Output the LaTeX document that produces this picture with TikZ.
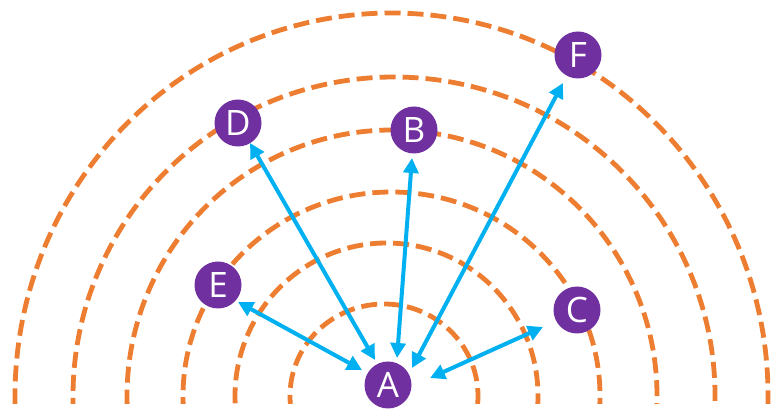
\documentclass[tikz,border=0pt]{standalone}
\usepackage{fontspec}
\newfontfamily\labfont{Open Sans}
\usetikzlibrary{arrows.meta,calc}
\definecolor{arcorange}{HTML}{ED7D31}
\definecolor{arrblue}{HTML}{00B0F0}
\definecolor{nodepurple}{HTML}{7030A0}
\tikzset{
  ring/.style={draw=arcorange, line width=4.8pt, dash pattern=on 16pt off 7pt},
  arr/.style={draw=arrblue, line width=4pt, {Triangle[length=15pt,width=15pt]}-{Triangle[length=15pt,width=15pt]}},
  station/.style={circle, fill=nodepurple, minimum size=47pt, inner sep=0pt, text=white, font=\labfont\fontsize{35}{35}\selectfont}
}
\begin{document}
\begin{tikzpicture}[x=1pt,y=1pt]
\useasboundingbox (0,0) rectangle (771,412);
\begin{scope}
\clip (0,8) rectangle (771,412);
\draw[ring, shift={(384,16)}]   (-5:94 and 92)     arc[start angle=-5, end angle=185, x radius=94,  y radius=92];
\draw[ring, shift={(386.5,16)}] (-5:151.5 and 153) arc[start angle=-5, end angle=185, x radius=151.5, y radius=153];
\draw[ring, shift={(391.5,16)}] (-5:208.5 and 204) arc[start angle=-5, end angle=185, x radius=208.5, y radius=204];
\draw[ring, shift={(392,16)}]   (-5:265 and 266)   arc[start angle=-5, end angle=185, x radius=265, y radius=266];
\draw[ring, shift={(394,16)}]   (-5:321 and 319)   arc[start angle=-5, end angle=185, x radius=321, y radius=319];
\draw[ring, shift={(391.5,16)}] (-5:376.5 and 383) arc[start angle=-5, end angle=185, x radius=376.5, y radius=383];
\end{scope}
\node[station] (A) at (388,27) {A};
\node[station] (B) at (414,282) {B};
\node[station] (C) at (577,102) {C};
\node[station] (D) at (238,289) {D};
\node[station] (E) at (218,127) {E};
\node[station] (F) at (578,357) {F};
\draw[arr] ($(A)+(-26,15)$) -- ($(E)+(20,-17)$);
\draw[arr] ($(A)+(42,7)$) -- ($(C)+(-34,-17)$);
\draw[arr] ($(A)+(-13,25)$) -- ($(D)+(12,-20)$);
\draw[arr] ($(A)+(9,27)$) -- ($(B)+(-2,-28)$);
\draw[arr] ($(A)+(24,17)$) -- ($(F)+(-15,-28)$);
\end{tikzpicture}
\end{document}
